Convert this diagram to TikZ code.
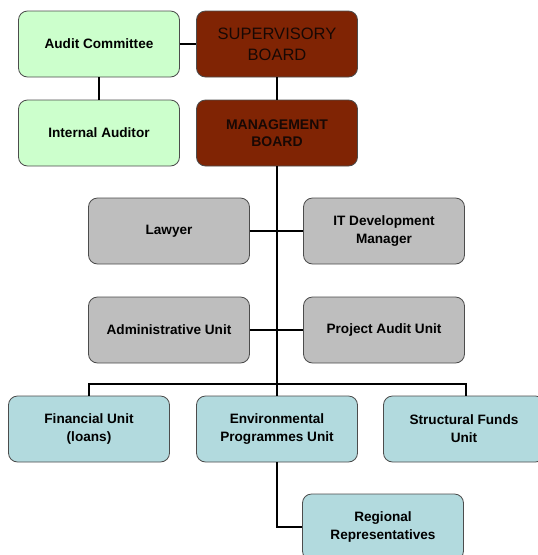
\documentclass[tikz,border=0pt]{standalone}
\usepackage{fontspec}
\setmainfont{Liberation Sans}
\begin{document}
\begin{tikzpicture}[x=1pt,y=-1pt,
  box/.style={draw=black!70, line width=0.8pt, rounded corners=9pt, align=center,
    minimum width=161pt, minimum height=66pt, inner sep=2pt,
    font=\fontsize{13.6}{18}\selectfont\bfseries},
  greenbox/.style={box, fill=boxgreen},
  redbox/.style={box, fill=boxred, text=boardtext},
  graybox/.style={box, fill=boxgray},
  tealbox/.style={box, fill=boxteal},
  conn/.style={draw=black, line width=2.2pt}]
\definecolor{boxgreen}{RGB}{204,255,204}
\definecolor{boxred}{RGB}{128,36,4}
\definecolor{boardtext}{RGB}{24,8,4}
\definecolor{boxgray}{RGB}{190,190,190}
\definecolor{boxteal}{RGB}{178,218,222}
\useasboundingbox (0,0) rectangle (538,555);

% governance
\node[greenbox] (ac) at (99,44) {Audit Committee};
\node[redbox, font=\fontsize{16.5}{21}\selectfont] (sb) at (277,44) {SUPERVISORY\\BOARD};
\node[greenbox] (ia) at (99,133) {Internal Auditor};
\node[redbox, font=\fontsize{14}{17}\selectfont\bfseries] (mb) at (277,133) {MANAGEMENT\\BOARD};

% staff positions
\node[graybox] (law) at (169,231) {Lawyer};
\node[graybox] (it) at (384,231) {IT Development\\Manager};
\node[graybox] (adm) at (169,330) {Administrative Unit};
\node[graybox] (pau) at (384,330) {Project Audit Unit};

% operating units
\node[tealbox] (fin) at (89,429) {Financial Unit\\(loans)};
\node[tealbox] (env) at (277,429) {Environmental\\Programmes Unit};
\node[tealbox] (sf) at (464,429) {Structural Funds\\Unit};
\node[tealbox] (rr) at (383,527) {Regional\\Representatives};

\coordinate (barR) at (466,384);

% connectors
\draw[conn] (ac.east) -- (sb.west);
\draw[conn] (ac.south) -- (ia.north);
\draw[conn] (sb.south) -- (mb.north);
\draw[conn] (mb.south) -- (env.north);
\draw[conn] (law.east) -- (it.west);
\draw[conn] (adm.east) -- (pau.west);
\draw[conn] (fin.north) |- (barR) -- (barR |- sf.north);
\draw[conn] (env.south) |- (rr.west);
\end{tikzpicture}
\end{document}
